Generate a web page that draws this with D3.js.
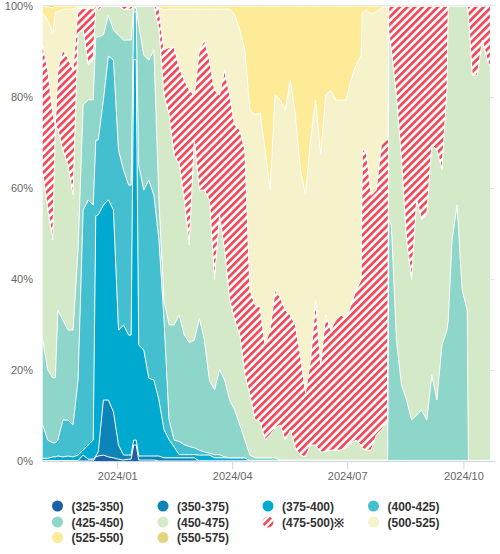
<!DOCTYPE html>
<html><head><meta charset="utf-8">
<script src="https://cdn.jsdelivr.net/npm/d3@7"></script>
<style>
body{margin:0;background:#fff;}
svg{font-family:"Liberation Sans",Arial,Helvetica,sans-serif;}
</style>
</head><body>
<svg id="chart" width="500" height="554"></svg>
<script>
const dates = [
"2023-11-03","2023-11-07","2023-11-11","2023-11-15","2023-11-19","2023-11-23","2023-11-27","2023-12-01","2023-12-05","2023-12-09",
"2023-12-13","2023-12-17","2023-12-21","2023-12-25","2023-12-29","2024-01-02","2024-01-06","2024-01-10","2024-01-14","2024-01-18",
"2024-01-22","2024-01-26","2024-01-30","2024-02-03","2024-02-07","2024-02-11","2024-02-15","2024-02-19","2024-02-23","2024-02-27",
"2024-03-02","2024-03-06","2024-03-10","2024-03-14","2024-03-18","2024-03-22","2024-03-26","2024-03-30","2024-04-03","2024-04-07",
"2024-04-11","2024-04-15","2024-04-19","2024-04-23","2024-04-27","2024-05-01","2024-05-05","2024-05-09","2024-05-13","2024-05-17",
"2024-05-21","2024-05-25","2024-05-29","2024-06-02","2024-06-06","2024-06-10","2024-06-14","2024-06-18","2024-06-22","2024-06-26",
"2024-06-30","2024-07-04","2024-07-08","2024-07-12","2024-07-16","2024-07-20","2024-07-24","2024-07-28","2024-08-01","2024-08-05",
"2024-08-09","2024-08-13","2024-08-17","2024-08-21","2024-08-25","2024-08-29","2024-09-02","2024-09-06","2024-09-10","2024-09-14",
"2024-09-18","2024-09-22","2024-09-26","2024-09-30","2024-10-04","2024-10-08","2024-10-12","2024-10-16","2024-10-20","2024-10-22"
];

const seriesNames = ["(325-350)","(350-375)","(375-400)","(400-425)","(425-450)","(450-475)","(475-500)","(500-525)","(525-550)","(550-575)"];
const legendLabels = ["(325-350)","(350-375)","(375-400)","(400-425)","(425-450)","(450-475)","(475-500)※","(500-525)","(525-550)","(550-575)"];
const seriesColors = ["#1c5fa6","#0c84b8","#00a9d0","#44bfcf","#8ed6c9","#d3e9c7","#ef4b5b","#f6f2cc","#feeb98","#e6d57f"];

const s325 = [
0,0,0,0,0,0,0,0,0,0,
0,1.1,1.3,0.9,0.7,0.4,0.2,0.4,3.5,0.2,
0.2,0.2,0.2,0,0,0,0,0,0,0,
0,0,0,0,0,0,0,0,0,0,
0,0,0,0,0,0,0,0,0,0,
0,0,0,0,0,0,0,0,0,0,
0,0,0,0,0,0,0,0,0,0,
0,0,0,0,0,0,0,0,0,0,
0,0,0,0,0,0,0,0,0,0];
const s350 = [
0.1,0.1,0.1,0.1,0.1,0.1,0.1,0.1,1.3,0.4,
0.4,0.9,12.1,12.5,10.1,3.1,1.1,0.9,1.1,0.9,
0.9,0.9,0.9,1.1,0.7,0.7,0.7,0.7,0.7,0.7,
0.7,0,0,0,0,0,0,0,0,0,
0,0,0,0,0,0,0,0,0,0,
0,0,0,0,0,0,0,0,0,0,
0,0,0,0,0,0,0,0,0,0,
0,0,0,0,0,0,0,0,0,0,
0,0,0,0,0,0,0,0,0,0];
const s375 = [
0.5,0.5,0.8,1.0,0.8,1.0,0.8,1.2,1.1,3.1,
4.2,52.1,42.9,44.0,44.4,25.3,28.6,26.4,83.5,24.4,
23.3,17.1,16.7,12.3,6.2,4.0,2.4,0.7,0.7,0.7,
0.7,1.3,1.3,1.3,0.7,0.7,0.7,0.7,0.7,0.7,
0.7,0,0,0,0,0,0,0,0,0,
0,0,0,0,0,0,0,0,0,0,
0,0,0,0,0,0,0,0,0,0,
0,0,0,0,0,0,0,0,0,0,
0,0,0,0,0,0,0,0,0,0];
const s400 = [
7.3,4.0,3.1,3.5,8.1,7.9,7.0,16.5,52.7,53.8,
51.6,16.5,23.1,31.6,33.0,39.6,34.1,33.0,10.5,39.6,
35.2,43.5,40.7,35.2,24.2,4.4,1.5,2.9,2.2,1.8,
1.5,1.1,0.7,0.4,0.7,0.7,0.2,0,0,0,
0,0,0,0,0,0,0,0,0,0,
0,0,0,0,0,0,0,0,0,0,
0,0,0,0,0,0,0,0,0,0,
0,0,0,0,0,0,0,0,0,0,
0,0,0,0,0,0,0,0,0,0];
const s425 = [
18.7,15.4,14.3,28.6,22.0,19.8,20.9,28.6,23.1,22.0,
23.1,22.6,14.3,9.0,6.6,25.3,28.6,31.9,0.9,30.8,
29.7,26.4,31.9,8.8,4.4,20.9,25.3,27.9,24.2,22.9,
23.7,29.0,24.6,16.0,14.3,18.7,16.9,12.7,10.5,7.3,
4.0,1.3,0.7,0.7,0.7,0.7,0.7,0.2,0.2,0.2,
0.2,0.2,0.2,0.2,0.2,0.2,0.2,0.2,0.2,0.2,
0.2,0.2,0.2,0.2,0.2,0.2,0.2,0.2,0.2,51.9,
26.6,16.7,13.4,9.0,10.1,11.2,9.0,18.9,13.4,25.5,
28.8,48.6,56.3,37.6,33.2,0,0,0,0,0];
const s450 = [
36.7,35.2,30.3,39.6,37.4,36.3,29.7,47.7,16.5,7.7,
8.8,5.9,6.4,2.0,5.3,6.4,6.8,6.8,0.4,4.2,
10.8,11.9,9.7,37.4,45.1,46.2,37.4,33.0,29.7,21.5,
44.0,28.1,33.0,39.6,24.2,34.1,28.6,22.0,19.8,19.8,
14.3,13.2,8.4,7.9,4.0,5.1,6.6,7.7,4.4,6.6,
2.6,1.1,0.7,3.3,3.3,1.8,1.8,2.2,2.2,2.2,
2.6,3.7,4.4,3.3,2.2,2.2,5.5,6.6,8.1,38.5,
53.4,49.5,35.2,30.8,47.3,41.8,45.1,50.5,54.9,38.5,
52.7,51.4,43.7,62.4,66.8,84.8,84.8,92.5,88.1,86.6];
const s475 = [
28.1,30.8,27.9,13.2,22.0,23.5,27.5,5.3,4.6,12.3,
11.2,0.9,0,0,0,0,0.7,0.7,0,0,
0,0,0,4.8,9.9,14.9,23.7,21.5,26.4,34.1,
9.9,30.8,33.0,30.8,41.8,26.4,39.6,45.1,42.9,45.1,
49.5,23.1,25.3,25.3,20.9,23.1,30.3,28.1,28.6,25.3,
27.0,22.0,14.1,18.7,31.9,19.1,30.1,26.4,28.6,29.7,
28.6,30.3,33.0,36.3,65.9,56.0,53.8,62.6,62.2,9.7,
20.0,33.8,51.4,60.2,42.6,47.0,45.9,30.5,31.6,36.0,
18.5,0,0,0,0,15.2,15.2,7.5,11.9,13.4];
const s500 = [
7.0,11.0,17.6,12.7,9.0,10.8,13.4,0.4,0.4,0.4,
0.4,0,0,0,0,0,0,0,0,0,
0,0,0,0,8.8,8.4,8.4,12.7,15.6,17.8,
18.9,9.0,6.8,11.2,17.8,18.9,13.4,18.9,24.2,22.0,
22.0,39.6,41.8,42.6,42.9,30.8,42.9,43.3,44.0,51.6,
46.2,40.7,43.5,48.4,44.0,46.2,48.4,52.7,48.4,47.3,
47.9,49.5,49.5,49.5,30.8,39.8,39.1,30.1,29.2,0,
0,0,0,0,0,0,0,0,0,0,
0,0,0,0,0,0,0,0,0,0];
const s525 = [
1.5,2.9,5.5,1.3,0.7,0.7,0.7,0.2,0.2,0.2,
0.2,0,0,0,0,0,0,0,0,0,
0,0,0,0.4,0.9,0.7,0.7,0.7,0.7,0.7,
0.7,0.7,0.7,0.7,0.7,0.7,0.7,0.7,2.0,5.3,
9.7,22.9,24.0,23.5,31.6,40.4,19.6,20.7,22.9,16.3,
24.0,36.0,41.5,29.5,20.7,32.7,19.6,18.5,20.7,20.7,
20.7,16.3,13.0,10.8,0.9,1.8,1.3,0.4,0.2,0,
0,0,0,0,0,0,0,0,0,0,
0,0,0,0,0,0,0,0,0,0];
const s550 = [
0,0.2,0.4,0,0,0,0,0,0,0,
0,0,0,0,0,0,0,0,0,0,
0,0,0,0,0,0,0,0,0,0,
0,0,0,0,0,0,0,0,0,0,
0,0,0,0,0,0,0,0,0,0,
0,0,0,0,0,0,0,0,0,0,
0,0,0,0,0,0,0,0,0,0,
0,0,0,0,0,0,0,0,0,0,
0,0,0,0,0,0,0,0,0,0];

// extra days read at the sharp changes of the picture
const extraDates = ["2023-11-13","2023-12-15","2024-01-12","2024-01-16","2024-07-13","2024-08-02","2024-08-03","2024-09-19","2024-10-05"];
const e325 = [0,0.9,0.4,3.5,0,0,0,0,0];
const e350 = [0.1,0.2,0.9,1.1,0,0,0,0,0];
const e375 = [0.8,52.5,26.4,83.5,0,0,0,0,0];
const e400 = [3.1,16.5,33.0,10.5,0,0,0,0,0];
const e425 = [14.3,22.6,31.9,0.9,0.2,0.2,53.0,31.0,0];
const e450 = [55.6,6.4,6.8,0.4,2.6,8.1,41.1,69.0,97.6];
const e475 = [0,0.4,0.7,0,65.5,62.2,5.9,0,2.4];
const e500 = [24.8,0,0,0,30.1,29.2,0,0,0];
const e525 = [1.3,0,0,0,1.5,0.2,0,0,0];
const e550 = [0,0,0,0,0,0,0,0,0];

const yTicks = [0,20,40,60,80,100];
const xTickDates = ["2024-01-01","2024-04-01","2024-07-01","2024-10-01"];
const xTickLabels = ["2024/01","2024/04","2024/07","2024/10"];

const seriesValues = [s325,s350,s375,s400,s425,s450,s475,s500,s525,s550];
const extraValues = [e325,e350,e375,e400,e425,e450,e475,e500,e525,e550];
const parse = d3.timeParse("%Y-%m-%d");
const rows = dates.map((d,i)=>{
  const o = {date: parse(d)};
  seriesNames.forEach((k,j)=>{ o[k] = seriesValues[j][i]; });
  return o;
}).concat(extraDates.map((d,i)=>{
  const o = {date: parse(d)};
  seriesNames.forEach((k,j)=>{ o[k] = extraValues[j][i]; });
  return o;
})).sort((a,b)=>a.date-b.date);

const svg = d3.select("#chart");
const L = 42.7, R = 495, T = 6, B = 461;
const x = d3.scaleTime().domain([parse("2023-11-03"), parse("2024-10-26")]).range([L, R]);
const y = d3.scaleLinear().domain([0, 100]).range([B, T]);

// hatch pattern
const defs = svg.append("defs");
const pat = defs.append("pattern").attr("id","hatch").attr("patternUnits","userSpaceOnUse")
  .attr("width",5.4).attr("height",5.4).attr("patternTransform","rotate(45)");
pat.append("rect").attr("width",5.4).attr("height",5.4).attr("fill","#fff");
pat.append("rect").attr("width",2.8).attr("height",5.4).attr("fill",seriesColors[6]);

// grid (behind)
svg.append("g").selectAll("line").data(yTicks.filter(v=>v<100)).join("line")
  .attr("x1",L).attr("x2",R).attr("y1",d=>Math.round(y(d))+0.5).attr("y2",d=>Math.round(y(d))+0.5)
  .attr("stroke","#e6e6e6").attr("stroke-width",1);

const stack = d3.stack().keys(seriesNames).offset(d3.stackOffsetExpand);
const layers = stack(rows);

const area = d3.area().x(d=>x(d.data.date)).y0(d=>y(d[0]*100)).y1(d=>y(d[1]*100));
const line = d3.line().x(d=>x(d.data.date)).y(d=>y(d[1]*100));

const g = svg.append("g");
g.selectAll("path.area").data(layers).join("path").attr("class","area")
  .attr("d",area)
  .attr("fill",(d,i)=> i===6 ? "url(#hatch)" : seriesColors[i]);
g.selectAll("path.edge").data(layers.slice(0,9)).join("path").attr("class","edge")
  .attr("d",line).attr("fill","none").attr("stroke","#fff").attr("stroke-width",1)
  .attr("stroke-linejoin","round");

// top gridline
svg.append("line").attr("x1",L).attr("x2",R).attr("y1",5.5).attr("y2",5.5)
  .attr("stroke","#e6e6e6").attr("stroke-width",1);

// y labels
svg.append("g").selectAll("text").data(yTicks).join("text")
  .attr("x",33).attr("y",d=>y(d)+4).attr("text-anchor","end")
  .attr("font-size",11).attr("fill","#666").text(d=>d+"%");

// x axis
const xa = svg.append("g").attr("transform",`translate(0,${B})`)
  .call(d3.axisBottom(x).tickValues(xTickDates.map(parse))
    .tickFormat((d,i)=>xTickLabels[i]).tickSizeInner(8).tickSizeOuter(0));
xa.select(".domain").attr("stroke","#ccd6eb").attr("d",`M${L},0.5H${R}`);
xa.selectAll(".tick line").attr("stroke","#ccd6eb");
xa.selectAll(".tick text").attr("fill","#666").attr("font-size",11)
  .attr("font-family","Liberation Sans, Arial, sans-serif");

// legend
const colX = [57.5,163,268,373.5];
const rowY = [506,522,537.5];
const lg = svg.append("g");
legendLabels.forEach((lab,i)=>{
  const cx = colX[i%4], cy = rowY[Math.floor(i/4)];
  lg.append("circle").attr("cx",cx).attr("cy",cy).attr("r",5.5)
    .attr("fill", i===6 ? "url(#hatch)" : seriesColors[i]);
  lg.append("text").attr("x",cx+14).attr("y",cy+4.5)
    .attr("font-size",12).attr("font-weight","bold").attr("fill","#333").text(lab);
});
</script>
</body></html>
